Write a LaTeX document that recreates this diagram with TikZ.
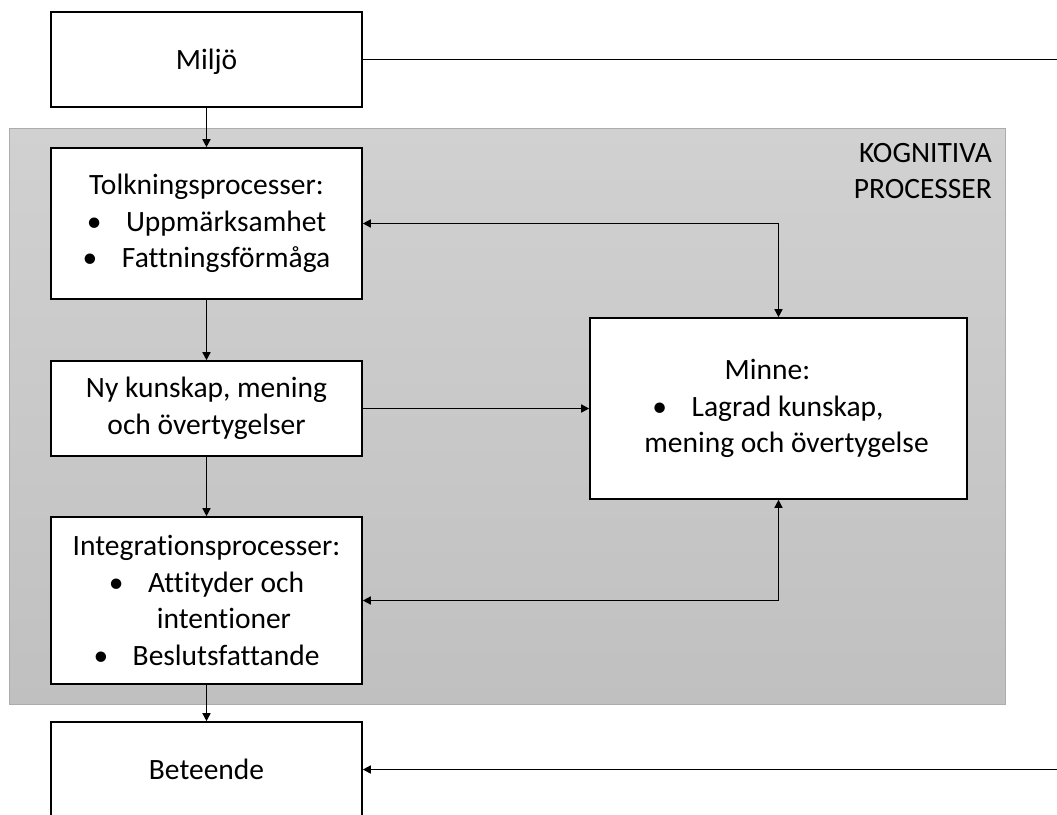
\documentclass[tikz,border=0pt]{standalone}
\usepackage{fontspec}
\setmainfont[Ligatures=NoCommon]{Carlito}
\usetikzlibrary{arrows.meta}

\definecolor{panetop}{RGB}{209,209,209}
\definecolor{panebot}{RGB}{192,192,192}
\definecolor{paneedge}{RGB}{172,172,172}

% bullet followed by a fixed gap, as in a hanging list item
\newcommand\bul{\makebox[1.33em][l]{\textbullet}}

\begin{document}
\begin{tikzpicture}[x=1pt,y=-1pt,
  box/.style={draw=black,line width=1.6pt,fill=white,minimum width=311pt,
    inner sep=0pt,align=center,font=\fontsize{29.5}{36.5}\selectfont},
  conn/.style={line width=1.5pt},
  arr/.style={conn,-{Triangle[length=8pt,width=8pt]}},
  darr/.style={conn,{Triangle[length=8pt,width=8pt]}-{Triangle[length=8pt,width=8pt]}},
  panelabel/.style={align=right,inner sep=0pt,font=\fontsize{29.5}{36.5}\selectfont}]

\useasboundingbox (0,0) rectangle (1057,814);
\clip (0,0) rectangle (1057,814);

% shaded panel holding the cognitive processes
\shadedraw[top color=panetop,bottom color=panebot,draw=paneedge,line width=1pt]
  (9,128) rectangle (1005,704);
\node[panelabel,anchor=north east] (panetitle) at (992,143) {KOGNITIVA\\PROCESSER};

% boxes
\node[box,minimum height=95pt,text height=20pt,text depth=0pt] (env) at (206.5,59.5) {Miljö};
\node[box,minimum height=151pt] (interp) at (206.5,223.5)
  {Tolkningsprocesser:\\\bul Uppmärksamhet\\\bul Fattningsförmåga};
\node[box,minimum height=95pt] (newk) at (206.5,408.5)
  {Ny kunskap, mening\\och övertygelser};
\node[box,minimum height=167pt] (integ) at (206.5,600.5)
  {Integrationsprocesser:\\\bul Attityder och\\\hbox{\kern35pt intentioner}\\\bul Beslutsfattande};
\node[box,minimum height=95pt] (behav) at (206.5,769.5) {Beteende};
\node[box,minimum width=377pt,minimum height=181pt] (mem) at (778.5,408.5)
  {\hbox{Minne:\kern22pt}\\\hbox{\bul Lagrad kunskap,\kern21pt}\\\hbox{\kern16pt mening och övertygelse}};

% free ends at the right border
\coordinate (edgeR) at (1062,0);

% connectors
\draw[conn] (env.east) -- (env.east -| edgeR);
\draw[arr] (env.south) -- (interp.north);
\draw[arr] (interp.south) -- (newk.north);
\draw[arr] (newk.south) -- (integ.north);
\draw[arr] (integ.south) -- (behav.north);
\draw[arr] (newk.east) -- (mem.west);
\draw[darr] (interp.east) -| (mem.north);
\draw[darr] (integ.east) -| (mem.south);
\draw[arr] (behav.east -| edgeR) -- (behav.east);
\end{tikzpicture}
\end{document}
